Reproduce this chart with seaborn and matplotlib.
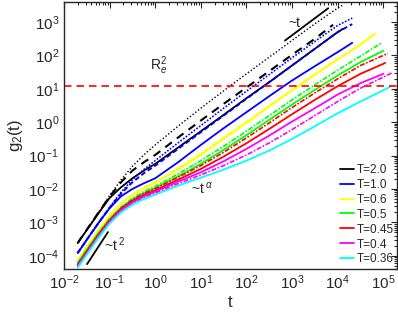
import numpy as np
import pandas as pd
import matplotlib
matplotlib.use("Agg")
import matplotlib.pyplot as plt
import seaborn as sns

# log10(t) sample points shared by all curves, each curve stops at its own end time
log_t_grid = [-1.7, -1.5, -1.25, -1.0, -0.75, -0.5, -0.25, 0.0, 0.5, 1.0,
              1.5, 2.0, 2.5, 3.0, 3.5, 4.0, 4.5, 5.0]

# log10(g2), one list per curve (last value = end point)
log_g_T20 = [-3.62, -3.23, -2.74, -2.27, -1.95, -1.68, -1.45, -1.25, -0.76, -0.27,
             0.22, 0.72, 1.2, 1.7, 2.2, 2.7, 2.8]
log_g_T20_dash = [-3.62, -3.22, -2.72, -2.23, -1.8, -1.45, -1.2, -0.98, -0.46, 0.05,
                  0.55, 1.04, 1.53, 2.02, 2.5, 2.92]
log_g_T20_dot = [-3.62, -3.22, -2.71, -2.2, -1.73, -1.32, -0.98, -0.68, -0.12, 0.42,
                 0.94, 1.45, 1.95, 2.45, 2.95, 3.42, 3.5]
log_g_T10 = [-3.92, -3.52, -3.03, -2.58, -2.22, -2.0, -1.83, -1.68, -1.2, -0.68,
             -0.18, 0.3, 0.78, 1.25, 1.68, 2.1, 2.38]
log_g_T10_dot = [-3.92, -3.52, -3.03, -2.55, -2.1, -1.72, -1.42, -1.15, -0.62, -0.1,
                 0.42, 0.93, 1.43, 1.93, 2.42, 2.9, 3.12]
log_g_T10_dash = [-3.92, -3.52, -3.03, -2.56, -2.14, -1.8, -1.53, -1.3, -0.8, -0.3,
                  0.2, 0.7, 1.2, 1.7, 2.2, 2.7, 2.94]
log_g_T06 = [-4.14, -3.74, -3.25, -2.81, -2.45, -2.18, -1.98, -1.82, -1.42, -0.98,
             -0.5, -0.02, 0.47, 0.95, 1.42, 1.88, 2.32, 2.65]
log_g_T06_dot = [-4.14, -3.74, -3.25, -2.8, -2.44, -2.16, -1.95, -1.79, -1.38, -0.94,
                 -0.46, 0.02, 0.5, 0.98, 1.45, 1.9, 2.34, 2.67]
log_g_T05 = [-4.22, -3.82, -3.33, -2.9, -2.56, -2.31, -2.12, -1.97, -1.62, -1.25,
             -0.83, -0.39, 0.07, 0.53, 0.97, 1.4, 1.8, 2.14]
log_g_T05_dot = [-4.22, -3.82, -3.33, -2.89, -2.54, -2.28, -2.08, -1.92, -1.55, -1.15,
                 -0.72, -0.27, 0.2, 0.67, 1.12, 1.56, 1.98, 2.38]
log_g_T045 = [-4.27, -3.87, -3.38, -2.94, -2.6, -2.36, -2.18, -2.04, -1.72, -1.4,
              -1.03, -0.63, -0.2, 0.24, 0.67, 1.08, 1.45, 1.75, 1.78]
log_g_T045_dot = [-4.27, -3.87, -3.38, -2.93, -2.58, -2.33, -2.14, -1.99, -1.65, -1.3,
                  -0.9, -0.47, -0.02, 0.44, 0.88, 1.3, 1.7, 2.0, 2.06]
log_g_T04 = [-4.32, -3.92, -3.43, -2.98, -2.64, -2.4, -2.22, -2.08, -1.78, -1.5,
             -1.17, -0.8, -0.4, 0.02, 0.42, 0.83, 1.17, 1.45]
log_g_T04_dot = [-4.32, -3.92, -3.43, -2.99, -2.66, -2.42, -2.25, -2.12, -1.84, -1.58,
                 -1.3, -0.98, -0.62, -0.22, 0.2, 0.62, 1.02, 1.35, 1.48]
log_g_T036 = [-4.36, -3.96, -3.47, -3.03, -2.7, -2.47, -2.3, -2.17, -1.9, -1.66,
              -1.42, -1.15, -0.85, -0.5, -0.12, 0.27, 0.62, 0.96, 1.09]

# log10(t) where each curve ends
log_t_end = {"T20": 4.12, "T20_dash": 3.9, "T20_dot": 4.1,
             "T10": 4.32, "T10_dot": 4.32, "T10_dash": 4.32,
             "T06": 4.82, "T06_dot": 4.82, "T05": 5.0, "T05_dot": 4.97,
             "T045": 5.04, "T045_dot": 5.1, "T04": 5.0, "T04_dot": 5.19,
             "T036": 5.19}

legend_labels = ["T=2.0", "T=1.0", "T=0.6", "T=0.5", "T=0.45", "T=0.4", "T=0.36"]
colors = ["black", "blue", "yellow", "#00ff00", "red", "magenta", "cyan"]

# reference lines / levels
Re2 = 12.4
slope1_t = [7.0e2, 6.2e3]
slope1_g = [2.8e2, 2.6e3]
slope2_t = [0.032, 0.092]
slope2_g = [5.6e-5, 5.1e-4]


def curve_t(key, n):
    pts = [x for x in log_t_grid if x < log_t_end[key]][:n - 1]
    return 10 ** np.array(pts + [log_t_end[key]])


sns.set_theme(style="white")
plt.rcParams["font.family"] = ["Liberation Sans", "DejaVu Sans"]
plt.rcParams["mathtext.fontset"] = "custom"
plt.rcParams["mathtext.rm"] = "Liberation Sans"
plt.rcParams["mathtext.it"] = "Liberation Sans:italic"

fig = plt.figure(figsize=(3.98, 3.16), dpi=100)
ax = fig.add_axes([64 / 398, 1 - 269 / 316, 333 / 398, 267 / 316])

# (key, data, colour, linestyle, width, label)
curves = [
    ("T20_dot", log_g_T20_dot, "black", (0, (1, 1.5)), 1.0, None),
    ("T20_dash", log_g_T20_dash, "black", (0, (4, 3)), 1.5, None),
    ("T20", log_g_T20, "black", "-", 1.3, legend_labels[0]),
    ("T10_dot", log_g_T10_dot, "blue", (0, (1, 1)), 1.2, None),
    ("T10_dash", log_g_T10_dash, "blue", (0, (2.5, 1.5)), 1.4, None),
    ("T10", log_g_T10, "blue", "-", 1.3, legend_labels[1]),
    ("T06", log_g_T06, "yellow", "-", 1.3, legend_labels[2]),
    ("T06_dot", log_g_T06_dot, "yellow", (0, (3, 1, 1, 1)), 1.2, None),
    ("T05", log_g_T05, "#00ff00", "-", 1.3, legend_labels[3]),
    ("T05_dot", log_g_T05_dot, "#00ff00", (0, (3, 1, 1, 1)), 1.2, None),
    ("T045", log_g_T045, "red", "-", 1.3, legend_labels[4]),
    ("T045_dot", log_g_T045_dot, "red", (0, (3, 1, 1, 1)), 1.2, None),
    ("T04", log_g_T04, "magenta", "-", 1.3, legend_labels[5]),
    ("T04_dot", log_g_T04_dot, "magenta", (0, (3, 1, 1, 1)), 1.2, None),
    ("T036", log_g_T036, "cyan", "-", 1.3, legend_labels[6]),
]

handles = {}
for key, lg, col, ls, lw, lab in curves:
    t = curve_t(key, len(lg))
    df = pd.DataFrame({"t": t, "g2": 10 ** np.array(lg)})
    sns.lineplot(data=df, x="t", y="g2", ax=ax, color=col, lw=lw, linestyle=ls,
                 estimator=None, sort=False)
    if lab is not None:
        handles[lab] = ax.lines[-1]

ax.axhline(Re2, color="red", linestyle=(0, (4.5, 3)), lw=1.2)
sns.lineplot(x=slope1_t, y=slope1_g, ax=ax, color="black", lw=1.3)
sns.lineplot(x=slope2_t, y=slope2_g, ax=ax, color="black", lw=1.3)

ax.set_xscale("log")
ax.set_yscale("log")
ax.set_xlim(1e-2, 2e5)
ax.set_ylim(4e-5, 4e3)
ax.set_xticks([10.0 ** k for k in range(-2, 6)])
ax.set_yticks([10.0 ** k for k in range(-4, 4)])
ax.xaxis.set_minor_locator(matplotlib.ticker.LogLocator(base=10, subs=np.arange(2, 10), numticks=20))
ax.yaxis.set_minor_locator(matplotlib.ticker.LogLocator(base=10, subs=np.arange(2, 10), numticks=20))
ax.xaxis.set_minor_formatter(matplotlib.ticker.NullFormatter())
ax.yaxis.set_minor_formatter(matplotlib.ticker.NullFormatter())
ax.tick_params(which="both", direction="in", top=True, right=True, colors="#262626",
               labelcolor="#262626", labelsize=11, width=0.8)
ax.tick_params(which="major", length=4.5)
ax.tick_params(which="minor", length=2.5)
for s in ax.spines.values():
    s.set_color("#262626")
    s.set_linewidth(1.0)

ax.set_xlabel("t", fontsize=12, color="#262626", labelpad=2)
ax.set_ylabel("g$_2$(t)", fontsize=12, color="#262626", labelpad=2)

ax.text(0.258, 0.745, "R$_e^2$", transform=ax.transAxes, fontsize=10, color="#262626")
ax.text(0.673, 0.905, "~t", transform=ax.transAxes, fontsize=10, color="#262626")
ax.text(0.12, 0.068, "~t$^{\\ 2}$", transform=ax.transAxes, fontsize=10, color="#262626")
ax.text(0.382, 0.283, "~t$^{\\ \\alpha}$", transform=ax.transAxes, fontsize=10, color="#262626")

ax.legend([handles[l] for l in legend_labels], legend_labels, loc="lower right",
          frameon=False, fontsize=8.5, handlelength=1.2, handletextpad=0.2,
          labelspacing=0.25, borderaxespad=0.1, borderpad=0.2)

fig.savefig("out.png", dpi=100)
